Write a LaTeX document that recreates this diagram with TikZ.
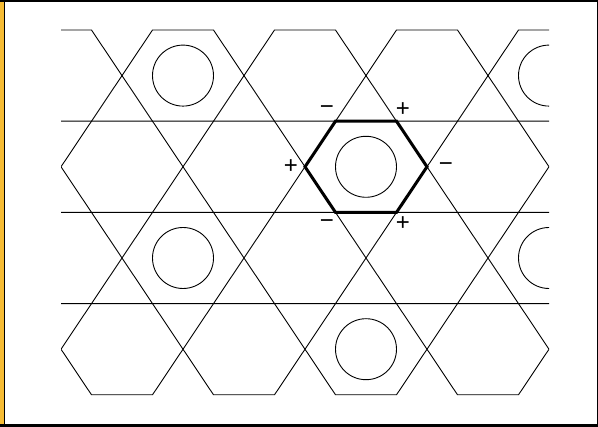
\documentclass[tikz,border=0pt]{standalone}
\usepackage{fontspec}
\setmainfont{Liberation Sans}
\definecolor{frameorange}{RGB}{246,188,52}
\begin{document}
\begin{tikzpicture}[x=1pt,y=-1pt,
  hexline/.style={draw=black,line width=0.9pt,line join=miter},
  ringline/.style={draw=black,line width=0.9pt},
  boldhex/.style={draw=black,line width=3pt,line join=miter},
  signlabel/.style={inner sep=0pt,font=\fontsize{24}{24}\selectfont}]
\useasboundingbox (0,0) rectangle (598,427);
\fill[white] (0,0) rectangle (598,427);
% frame
\fill[frameorange] (0,0) rectangle (3.5,427);
\fill[black] (3.5,0) rectangle (4.6,427);
\fill[black] (0,0) rectangle (598,2);
\fill[black] (0,424) rectangle (598,427);
\fill[black] (596.8,0) rectangle (598,427);
% lattice of hexagons
\begin{scope}
\clip (61,0) rectangle (549,427);
\foreach \cx/\cy in {61/75.6,183/75.6,305/75.6,427/75.6,549/75.6,
                     122/166.8,244/166.8,366/166.8,488/166.8,
                     61/258,183/258,305/258,427/258,549/258,
                     122/349.2,244/349.2,366/349.2,488/349.2}
  \draw[hexline] (\cx-61,\cy) -- (\cx-30.5,\cy-45.6) -- (\cx+30.5,\cy-45.6)
     -- (\cx+61,\cy) -- (\cx+30.5,\cy+45.6) -- (\cx-30.5,\cy+45.6) -- cycle;
\foreach \cx/\cy in {183/75.6,549/75.6,366/166.8,183/258,549/258,366/349.2}
  \draw[ringline] (\cx,\cy) circle[radius=30.5];
\end{scope}
% bold hexagon
\draw[boldhex] (305,166.8) -- (335.5,121.2) -- (396.5,121.2) -- (427,166.8)
   -- (396.5,212.4) -- (335.5,212.4) -- cycle;
% signs
\node[signlabel] (s1) at (327,110) {−};
\node[signlabel] (s2) at (403,110) {+};
\node[signlabel] (s3) at (291,167) {+};
\node[signlabel] (s4) at (446,167) {−};
\node[signlabel] (s5) at (327,224) {−};
\node[signlabel] (s6) at (403,224) {+};
\end{tikzpicture}
\end{document}
